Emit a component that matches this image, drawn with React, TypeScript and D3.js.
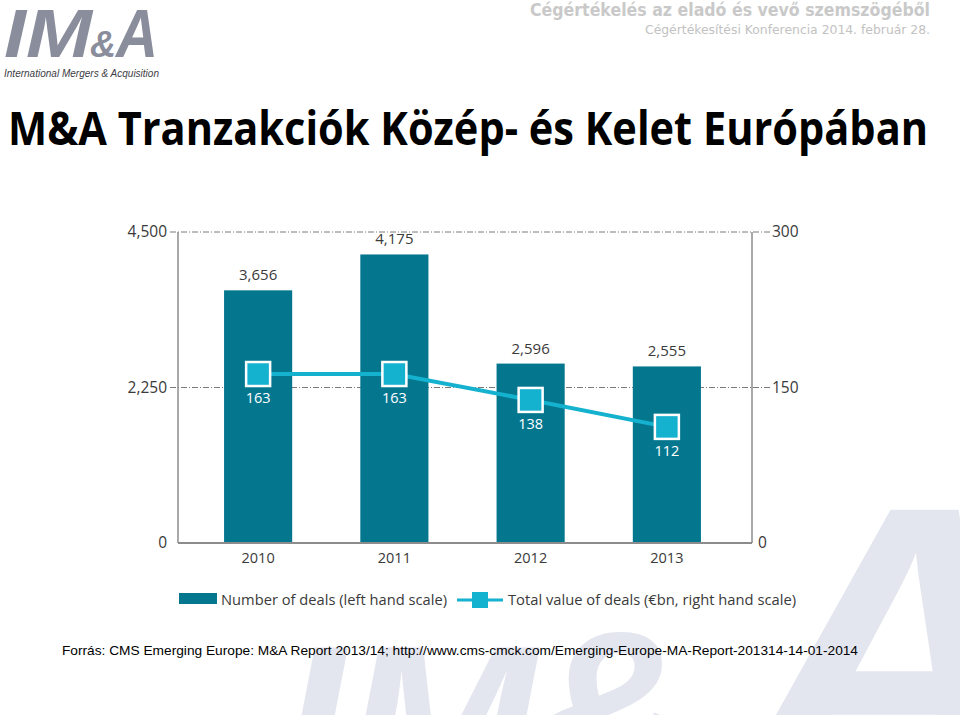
import * as d3 from 'd3'

const years = ['2010', '2011', '2012', '2013']
const deals = [3656, 4175, 2596, 2555]
const values = [163, 163, 138, 112]
const leftTicks = [0, 2250, 4500]
const rightTicks = [0, 150, 300]

const BAR = '#04778f'
const CYAN = '#15b2cf'
const AXIS = '#8c8c8c'
const TXT = '#3a3a3a'
const FONT = '"Open Sans", "Noto Sans", sans-serif'

const PLOT = { left: 178, right: 752, top: 232, bottom: 543 }

export default function App() {
  const x = d3.scaleBand<string>().domain(years).range([190, 735]).paddingInner(0.5).paddingOuter(0.25)
  const yL = d3.scaleLinear().domain([0, 4500]).range([PLOT.bottom, PLOT.top])
  const yR = d3.scaleLinear().domain([0, 300]).range([PLOT.bottom, PLOT.top])
  const cx = (y: string) => (x(y) ?? 0) + x.bandwidth() / 2
  const fmt = d3.format(',')

  const line = d3.line<number>().x((_, i) => cx(years[i])).y(d => yR(d))
  const sq = 24

  return (
    <svg width={960} height={715} style={{ position: 'absolute', left: 0, top: 0, background: '#fff' }}>
      {/* watermark */}
      <g fill="#e4e6ef" fontFamily='"Liberation Sans", Arial, sans-serif' fontWeight="bold" fontStyle="italic">
        <text x={280} y={806} fontSize={230}>IM</text>
        <text x={515} y={806} fontSize={250}>&amp;</text>
        <text x={745} y={785} fontSize={400}>A</text>
      </g>

      {/* logo */}
      <g fill="#8a8d9b" fontFamily='"Liberation Sans", Arial, sans-serif' fontWeight="bold" fontStyle="italic">
        <text x={4} y={57} fontSize={68} textLength={88} lengthAdjust="spacingAndGlyphs">IM</text>
        <text x={90} y={57} fontSize={36}>&amp;</text>
        <text x={116} y={57} fontSize={68} textLength={42} lengthAdjust="spacingAndGlyphs">A</text>
      </g>
      <text x={4} y={77} fontSize={11.5} fontStyle="italic" fill="#3d3d45" fontFamily='"Liberation Sans", Arial, sans-serif'
        textLength={155} lengthAdjust="spacingAndGlyphs">International Mergers &amp; Acquisition</text>

      {/* header */}
      <text x={930} y={16} textAnchor="end" fontSize={17} fontWeight="bold" fill="#c9c9c9" textLength={400} lengthAdjust="spacingAndGlyphs"
        fontFamily='"DejaVu Sans", sans-serif'>Cégértékelés az eladó és vevő szemszögéből</text>
      <text x={930} y={34} textAnchor="end" fontSize={12.5} fill="#c2c2c2" textLength={285} lengthAdjust="spacingAndGlyphs"
        fontFamily='"DejaVu Sans", sans-serif'>Cégértékesítési Konferencia 2014. február 28.</text>

      {/* title */}
      <text x={8} y={145} fontSize={46} fontWeight={700} fill="#000" textLength={920} lengthAdjust="spacingAndGlyphs"
        fontFamily='"Open Sans", "DejaVu Sans", sans-serif'>M&amp;A Tranzakciók Közép- és Kelet Európában</text>

      {/* gridlines */}
      {leftTicks.filter(t => t > 0).map(t => (
        <line key={t} x1={PLOT.left - 8} x2={PLOT.right + 18} y1={yL(t)} y2={yL(t)}
          stroke="#7a7a7a" strokeWidth={1} strokeDasharray="6,2,1,2" />
      ))}

      {/* bars */}
      {deals.map((d, i) => (
        <g key={years[i]}>
          <rect x={x(years[i])} y={yL(d)} width={x.bandwidth()} height={PLOT.bottom - yL(d)} fill={BAR} />
          <text x={cx(years[i])} y={yL(d) - 10} textAnchor="middle" fontSize={15} fill={TXT} fontFamily={FONT}>{fmt(d)}</text>
          <text x={cx(years[i])} y={563} textAnchor="middle" fontSize={14.5} fill={TXT} fontFamily={FONT}>{years[i]}</text>
        </g>
      ))}

      {/* axes */}
      <line x1={PLOT.left} x2={PLOT.left} y1={PLOT.top} y2={PLOT.bottom} stroke={AXIS} strokeWidth={1.5} />
      <line x1={PLOT.right} x2={PLOT.right} y1={PLOT.top} y2={PLOT.bottom} stroke={AXIS} strokeWidth={1.5} />
      <line x1={PLOT.left} x2={PLOT.right} y1={PLOT.bottom} y2={PLOT.bottom} stroke={AXIS} strokeWidth={2} />

      {leftTicks.map(t => (
        <text key={t} x={167} y={yL(t) + 5} textAnchor="end" fontSize={15.5} fill={TXT} fontFamily={FONT}>{fmt(t)}</text>
      ))}
      {rightTicks.map(t => (
        <text key={t} x={t === 0 ? 758 : 772} y={yR(t) + 5} fontSize={15.5} fill={TXT} fontFamily={FONT}>{t}</text>
      ))}

      {/* value line */}
      <path d={line(values) ?? ''} fill="none" stroke={CYAN} strokeWidth={4} />
      {values.map((v, i) => (
        <g key={i}>
          <rect x={cx(years[i]) - sq / 2} y={yR(v) - sq / 2} width={sq} height={sq} fill={CYAN} stroke="#fff" strokeWidth={2.5} />
          <text x={cx(years[i])} y={yR(v) + 29} textAnchor="middle" fontSize={14.5} fill="#fff" fontFamily={FONT}>{v}</text>
        </g>
      ))}

      {/* legend */}
      <rect x={179} y={593} width={38} height={11} fill={BAR} />
      <text x={221} y={605} fontSize={14.5} fill={TXT} fontFamily={FONT} textLength={226} lengthAdjust="spacingAndGlyphs">Number of deals (left hand scale)</text>
      <line x1={457} x2={503} y1={600} y2={600} stroke={CYAN} strokeWidth={3} />
      <rect x={472} y={592} width={16} height={16} fill={CYAN} />
      <text x={508} y={605} fontSize={14.5} fill={TXT} fontFamily={FONT} textLength={288} lengthAdjust="spacingAndGlyphs">Total value of deals (€bn, right hand scale)</text>

      {/* source */}
      <text x={62} y={655} fontSize={13.5} fill="#000" fontFamily='"Liberation Sans", Arial, sans-serif' textLength={796} lengthAdjust="spacingAndGlyphs">
        Forrás: CMS Emerging Europe: M&amp;A Report 2013/14; http://www.cms-cmck.com/Emerging-Europe-MA-Report-201314-14-01-2014
      </text>
    </svg>
  )
}
